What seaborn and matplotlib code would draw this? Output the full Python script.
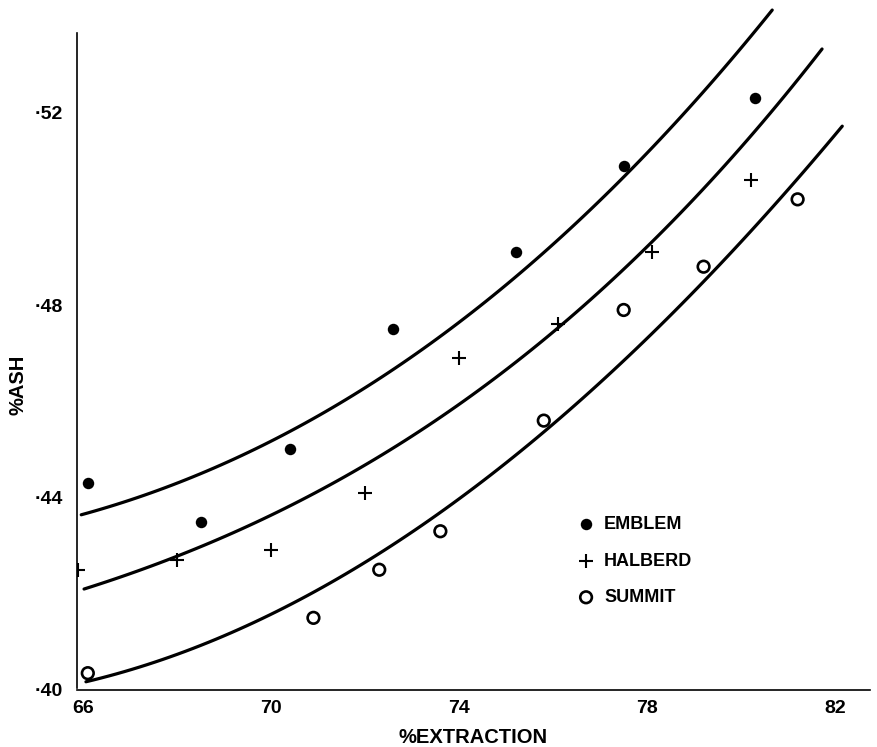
import matplotlib
matplotlib.use("Agg")
import matplotlib.pyplot as plt
import seaborn as sns
import pandas as pd

# Measured points per variety
emblem_x = [66.1, 68.5, 70.4, 72.6, 75.2, 77.5, 80.3]
emblem_y = [0.443, 0.435, 0.450, 0.475, 0.491, 0.509, 0.523]

halberd_x = [65.9, 68.0, 70.0, 72.0, 74.0, 76.1, 78.1, 80.2]
halberd_y = [0.425, 0.427, 0.429, 0.441, 0.469, 0.476, 0.491, 0.506]

summit_x = [66.1, 70.9, 72.3, 73.6, 75.8, 77.5, 79.2, 81.2]
summit_y = [0.4035, 0.415, 0.425, 0.433, 0.456, 0.479, 0.488, 0.502]

# Points along the trend curve of each variety
emblem_curve_x = [65.96, 68.64, 70.06, 71.55, 73.21, 74.79, 75.85, 76.98, 78.04, 79.04, 79.89, 80.66]
emblem_curve_y = [0.4363, 0.4460, 0.4516, 0.4603, 0.4711, 0.4819, 0.4910, 0.5020, 0.5123, 0.5231, 0.5318, 0.5413]

halberd_curve_x = [66.02, 67.94, 69.70, 71.55, 72.66, 74.06, 75.21, 76.06, 76.98, 78.11, 79.38, 80.83, 81.72]
halberd_curve_y = [0.4216, 0.4269, 0.4342, 0.4444, 0.4508, 0.4605, 0.4688, 0.4756, 0.4829, 0.4916, 0.5055, 0.5227, 0.5337]

summit_curve_x = [66.06, 67.94, 69.70, 71.55, 73.00, 74.43, 75.77, 76.98, 77.98, 79.38, 80.81, 82.15]
summit_curve_y = [0.4015, 0.4073, 0.4149, 0.4236, 0.4330, 0.4425, 0.4533, 0.4634, 0.4730, 0.4875, 0.5020, 0.5169]

x_ticks = [66, 70, 74, 78, 82]
y_ticks = [0.40, 0.44, 0.48, 0.52]
y_tick_labels = ["\u00b740", "\u00b744", "\u00b748", "\u00b752"]

sns.set_theme(style="white")
plt.rcParams["font.family"] = ["Liberation Sans", "DejaVu Sans"]
plt.rcParams["text.color"] = "black"
plt.rcParams["axes.labelcolor"] = "black"

fig = plt.figure(figsize=(8.77, 7.47), dpi=100)
ax = fig.add_axes([77 / 877, 1 - 690 / 747, (870 - 77) / 877, (690 - 5) / 747])

# Smooth trend curves (cubic regression through the curve points)
for cx, cy in ((emblem_curve_x, emblem_curve_y),
               (halberd_curve_x, halberd_curve_y),
               (summit_curve_x, summit_curve_y)):
    sns.regplot(x=cx, y=cy, ax=ax, order=3, ci=None, scatter=False, truncate=True,
                line_kws={"color": "black", "lw": 2.3})

em = pd.DataFrame({"x": emblem_x, "y": emblem_y})
ha = pd.DataFrame({"x": halberd_x, "y": halberd_y})
su = pd.DataFrame({"x": summit_x, "y": summit_y})

sns.scatterplot(data=em, x="x", y="y", ax=ax, marker="o", s=68, color="black",
                edgecolor="black", linewidth=0, label="EMBLEM")
sns.scatterplot(data=ha, x="x", y="y", ax=ax, marker="+", s=110, color="black",
                linewidth=1.5, label="HALBERD")
sns.scatterplot(data=su, x="x", y="y", ax=ax, marker="o", s=70, facecolor="none",
                edgecolor="black", linewidth=1.9, label="SUMMIT")

ax.set_xlim(65.87, 82.74)
ax.set_ylim(0.4004, 0.5424)

ax.set_xticks(x_ticks)
ax.set_xticklabels([str(t) for t in x_ticks])
ax.set_yticks(y_ticks)
ax.set_yticklabels(y_tick_labels)
ax.tick_params(axis="both", length=0, labelsize=14, colors="black")
ax.tick_params(axis="x", pad=7)
ax.tick_params(axis="y", pad=10)
for lab in ax.get_xticklabels() + ax.get_yticklabels():
    lab.set_fontweight("bold")

for side in ("top", "right"):
    ax.spines[side].set_visible(False)
for side in ("left", "bottom"):
    ax.spines[side].set_color("black")
    ax.spines[side].set_linewidth(1.2)
ax.spines["left"].set_bounds(0.4004, 0.5366)

ax.set_xlabel("%EXTRACTION", fontsize=14.5, fontweight="bold", labelpad=8)
ax.set_ylabel("%ASH", fontsize=14.5, fontweight="bold")
ax.yaxis.set_label_coords(-0.062, 0.445)

leg = ax.legend(loc="upper left", bbox_to_anchor=(568 / 877, 1 - 507 / 747),
                bbox_transform=fig.transFigure, frameon=False, fontsize=13,
                borderpad=0, handlelength=1.0, handletextpad=0.5, labelspacing=1.08)
for t in leg.get_texts():
    t.set_fontweight("bold")

fig.savefig("out.png", dpi=100, facecolor="white")
